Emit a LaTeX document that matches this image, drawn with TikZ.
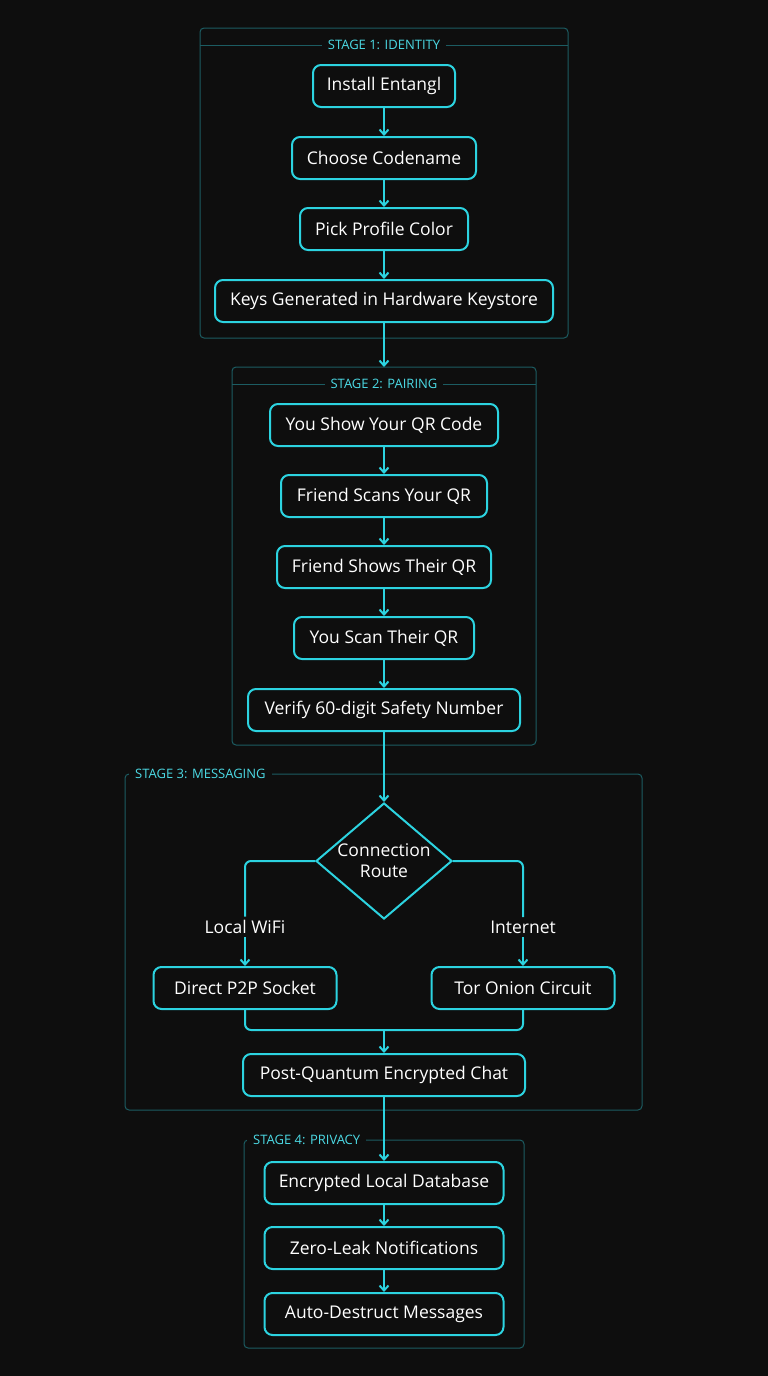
\documentclass[tikz,border=0pt]{standalone}
\usepackage{fontspec}
\setmainfont{Open Sans}
\usetikzlibrary{shapes.geometric,arrows.meta}
\definecolor{bg}{HTML}{0E0E0E}
\definecolor{neon}{HTML}{2CD3E0}
\definecolor{frame}{HTML}{1C5C62}
\begin{document}
\begin{tikzpicture}[x=1pt,y=-1pt,
  step/.style n args={2}{draw=neon,line width=2pt,fill=bg,text=white,rounded corners=8pt,minimum width=#1pt,minimum height=42pt,font=\fontsize{17.5}{20}\selectfont,inner sep=0pt},
  dec/.style={diamond,draw=neon,line width=2pt,fill=bg,text=white,minimum width=136pt,minimum height=116pt,aspect=1.17,inner sep=0pt,align=center,font=\fontsize{17.5}{21}\selectfont},
  stg/.style={draw=frame,line width=1pt,rounded corners=4pt},
  stglbl/.style={fill=bg,text=neon!85!white,inner xsep=6pt,font=\fontsize{13}{15}\selectfont},
  lbl/.style={text=white,font=\fontsize{17.5}{20}\selectfont},
  arr/.style={draw=neon,line width=2pt,-{Straight Barb[length=5pt,width=9pt]}},
  lin/.style={draw=neon,line width=2pt,rounded corners=6pt}]
\fill[bg] (0,0) rectangle (768,1376);
% stage frames
\draw[stg] (200,28) rectangle (568,338);
\draw[frame,line width=1pt] (200,45) -- (568,45);
\node[stglbl] (s1) at (384,45) {STAGE 1: IDENTITY};
\draw[stg] (232,367) rectangle (536,745);
\coordinate (s2top) at (384,367);
\draw[frame,line width=1pt] (232,384) -- (536,384);
\node[stglbl] (s2) at (384,384) {STAGE 2: PAIRING};
\draw[stg] (125,774) rectangle (642,1110);
\node[stglbl,anchor=west] (s3) at (129,774) {STAGE 3: MESSAGING};
\draw[stg] (244,1140) rectangle (524,1348);
\node[stglbl,anchor=west] (s4) at (247,1140) {STAGE 4: PRIVACY};
% stage 1
\node[step={142}{}] (install) at (384,86) {Install Entangl};
\node[step={184}{}] (codename) at (384,158) {Choose Codename};
\node[step={168}{}] (color) at (384,229) {Pick Profile Color};
\node[step={338}{}] (keys) at (384,301) {Keys Generated in Hardware Keystore};
% stage 2
\node[step={228}{}] (show) at (384,425) {You Show Your QR Code};
\node[step={206}{}] (fscan) at (384,496) {Friend Scans Your QR};
\node[step={214}{}] (fshow) at (384,567) {Friend Shows Their QR};
\node[step={180}{}] (scan) at (384,638) {You Scan Their QR};
\node[step={272}{}] (verify) at (384,710) {Verify 60-digit Safety Number};
% stage 3
\node[dec] (route) at (384,861) {Connection\\Route};
\node[step={183}{}] (p2p) at (245,988) {Direct P2P Socket};
\node[step={183}{}] (tor) at (523,988) {Tor Onion Circuit};
\node[step={282}{}] (chat) at (384,1075) {Post-Quantum Encrypted Chat};
\node[lbl] (wifi) at (245,927) {Local WiFi};
\node[lbl] (inet) at (523,927) {Internet};
\coordinate (join) at (384,1030);
% stage 4
\node[step={239}{}] (db) at (384,1183) {Encrypted Local Database};
\node[step={239}{}] (notif) at (384,1248) {Zero-Leak Notifications};
\node[step={239}{}] (destruct) at (384,1314) {Auto-Destruct Messages};
% connectors
\foreach \a/\b in {install/codename,codename/color,color/keys,keys/s2top,show/fscan,fscan/fshow,fshow/scan,scan/verify,verify/route,chat/db,db/notif,notif/destruct}
  \draw[arr] (\a) -- (\b);
\draw[lin] (route.west) -| (wifi.north);
\draw[lin] (route.east) -| (inet.north);
\draw[arr] (wifi) -- (p2p);
\draw[arr] (inet) -- (tor);
\draw[lin] (p2p.south) |- (join);
\draw[lin] (tor.south) |- (join);
\draw[arr] (join) -- (chat);
\end{tikzpicture}
\end{document}
